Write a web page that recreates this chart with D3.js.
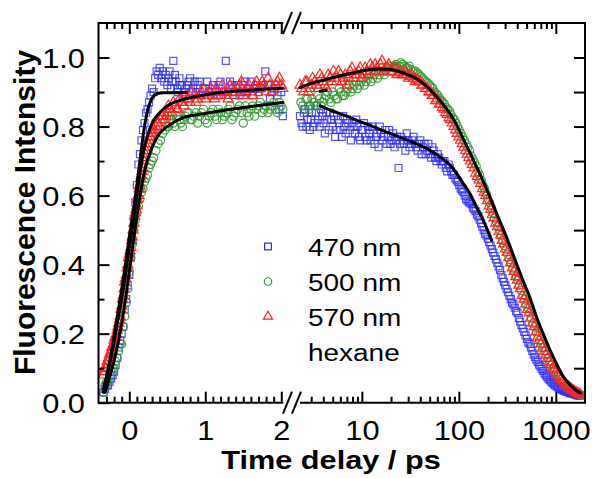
<!DOCTYPE html>
<html><head><meta charset="utf-8">
<script src="https://cdn.jsdelivr.net/npm/d3@7"></script>
<style>
html,body{margin:0;padding:0;background:#fff;}
svg{display:block;font-family:"Liberation Sans",Arial,Helvetica,sans-serif;}
</style></head><body>
<svg id="chart" width="592" height="478"></svg>
<script>
// ---------- data: [time (ps), normalized intensity] ----------
// linear region (-0.4 .. 2 ps)
const b470Early = [[-0.34,0.03],[-0.32,0.04],[-0.30,0.05],[-0.28,0.05],[-0.26,0.06],[-0.24,0.07],[-0.22,0.08],[-0.20,0.09],[-0.18,0.11],[-0.16,0.13],[-0.14,0.16],[-0.12,0.18],[-0.10,0.20],[-0.08,0.22],[-0.06,0.27],[-0.04,0.30],[-0.02,0.34],[0.00,0.37],[0.02,0.42],[0.04,0.47],[0.06,0.53],[0.08,0.58],[0.10,0.63],[0.12,0.69],[0.14,0.72],[0.16,0.76],[0.18,0.79],[0.20,0.81],[0.22,0.84],[0.24,0.85],[0.26,0.87],[0.28,0.89],[0.30,0.91],[0.32,0.90],[0.34,0.94],[0.36,0.96],[0.38,0.95],[0.40,0.97],[0.42,0.94],[0.44,0.96],[0.46,0.93],[0.48,0.95],[0.50,0.92],[0.52,0.94],[0.55,0.91],[0.58,0.99],[0.61,0.93],[0.64,0.90],[0.67,0.92],[0.70,0.89],[0.74,0.91],[0.78,0.93],[0.82,0.90],[0.86,0.93],[0.90,0.92],[0.95,0.89],[1.00,0.91],[1.05,0.90],[1.10,0.92],[1.15,0.89],[1.20,0.93],[1.27,0.99],[1.30,0.90],[1.35,0.92],[1.40,0.91],[1.45,0.89],[1.50,0.92],[1.55,0.90],[1.60,0.93],[1.65,0.91],[1.70,0.90],[1.75,0.92],[1.79,0.96],[1.85,0.88],[1.90,0.91],[1.95,0.89],[2.00,0.90],[2.02,0.83],
  [0.53,0.96],[0.565,0.93],[0.60,0.95],[0.63,0.91],[0.66,0.94],[0.69,0.92],[0.72,0.90],[0.76,0.92],[0.80,0.94],[0.84,0.91],[0.88,0.90],[0.925,0.93],[0.975,0.91],[1.025,0.93],[1.075,0.89],[1.125,0.91],[1.175,0.92],[1.225,0.90],[1.325,0.93],[1.375,0.90],[1.425,0.92],[1.475,0.90],[1.525,0.93],[1.575,0.91],[1.625,0.89],[1.675,0.92],[1.725,0.91],[1.825,0.92],[1.875,0.90],[1.925,0.92],[1.975,0.85]];
const g500Early = [[-0.34,0.03],[-0.32,0.05],[-0.30,0.06],[-0.28,0.06],[-0.26,0.08],[-0.24,0.09],[-0.22,0.10],[-0.20,0.10],[-0.18,0.12],[-0.16,0.13],[-0.14,0.15],[-0.12,0.17],[-0.10,0.17],[-0.08,0.22],[-0.06,0.25],[-0.04,0.29],[-0.02,0.33],[0.00,0.38],[0.02,0.42],[0.04,0.46],[0.06,0.50],[0.08,0.53],[0.10,0.55],[0.12,0.57],[0.14,0.59],[0.16,0.61],[0.18,0.62],[0.20,0.64],[0.22,0.65],[0.24,0.66],[0.26,0.68],[0.28,0.69],[0.30,0.70],[0.32,0.71],[0.35,0.73],[0.38,0.75],[0.41,0.76],[0.44,0.78],[0.47,0.79],[0.50,0.80],[0.53,0.81],[0.56,0.82],[0.60,0.80],[0.64,0.83],[0.68,0.81],[0.72,0.82],[0.76,0.84],[0.80,0.82],[0.85,0.83],[0.90,0.81],[0.95,0.84],[1.00,0.82],[1.05,0.83],[1.10,0.85],[1.15,0.82],[1.20,0.84],[1.25,0.83],[1.30,0.85],[1.35,0.82],[1.40,0.84],[1.45,0.86],[1.50,0.81],[1.55,0.84],[1.60,0.85],[1.65,0.83],[1.70,0.86],[1.75,0.84],[1.80,0.86],[1.85,0.85],[1.90,0.87],[1.95,0.84],[2.00,0.86],
  [0.515,0.80],[0.545,0.82],[0.58,0.81],[0.62,0.83],[0.66,0.82],[0.70,0.80],[0.74,0.83],[0.78,0.84],[0.825,0.82],[0.875,0.84],[0.925,0.83],[0.975,0.85],[1.025,0.81],[1.075,0.84],[1.125,0.83],[1.175,0.85],[1.225,0.82],[1.275,0.84],[1.325,0.86],[1.375,0.83],[1.425,0.85],[1.475,0.84],[1.525,0.86],[1.575,0.83],[1.625,0.86],[1.675,0.85],[1.725,0.87],[1.775,0.85],[1.825,0.84],[1.875,0.86],[1.925,0.85],[1.975,0.87],[2.02,0.85]];
const r570Early = [[-0.34,0.08],[-0.32,0.10],[-0.30,0.11],[-0.28,0.12],[-0.26,0.14],[-0.24,0.15],[-0.22,0.16],[-0.20,0.18],[-0.18,0.19],[-0.16,0.21],[-0.14,0.23],[-0.12,0.25],[-0.10,0.28],[-0.08,0.31],[-0.06,0.35],[-0.04,0.37],[-0.02,0.40],[0.00,0.43],[0.02,0.45],[0.04,0.48],[0.06,0.52],[0.08,0.55],[0.10,0.57],[0.12,0.60],[0.14,0.63],[0.16,0.66],[0.18,0.68],[0.20,0.71],[0.22,0.73],[0.24,0.75],[0.26,0.76],[0.28,0.77],[0.30,0.78],[0.32,0.78],[0.35,0.80],[0.38,0.81],[0.41,0.82],[0.44,0.83],[0.47,0.82],[0.50,0.84],[0.53,0.85],[0.56,0.84],[0.60,0.86],[0.64,0.85],[0.68,0.87],[0.72,0.86],[0.76,0.88],[0.80,0.87],[0.85,0.89],[0.90,0.88],[0.95,0.90],[1.00,0.88],[1.05,0.90],[1.10,0.89],[1.15,0.91],[1.20,0.89],[1.25,0.90],[1.30,0.88],[1.35,0.91],[1.40,0.90],[1.45,0.92],[1.50,0.89],[1.55,0.91],[1.60,0.90],[1.65,0.92],[1.70,0.91],[1.75,0.93],[1.80,0.90],[1.85,0.92],[1.90,0.91],[1.95,0.93],[2.00,0.92],
  [-0.33,0.09],[-0.31,0.10],[-0.29,0.12],[-0.27,0.13],[-0.25,0.14],[-0.23,0.16],[-0.21,0.17],[-0.19,0.19],[-0.17,0.20],[-0.15,0.22],[-0.13,0.24],[-0.11,0.27],[-0.09,0.30],[-0.07,0.33],[-0.05,0.36],[-0.03,0.39],[-0.01,0.42],[0.01,0.44],[0.03,0.47],[0.05,0.50],[0.07,0.54],[0.09,0.56],[0.11,0.59],[0.13,0.62],[0.15,0.65],[0.17,0.67],[0.19,0.70],[0.21,0.72],[0.23,0.74],[0.25,0.75],[0.27,0.77],[0.29,0.78],[0.31,0.79],
  [0.33,0.79],[0.365,0.81],[0.395,0.80],[0.425,0.83],[0.455,0.84],[0.485,0.83],[0.515,0.86],[0.545,0.85],[0.58,0.87],[0.62,0.85],[0.66,0.88],[0.70,0.87],[0.74,0.89],[0.78,0.88],[0.825,0.90],[0.875,0.87],[0.925,0.89],[0.975,0.91],[1.025,0.89],[1.075,0.91],[1.125,0.88],[1.175,0.90],[1.225,0.92],[1.275,0.89],[1.325,0.92],[1.375,0.89],[1.425,0.91],[1.475,0.93],[1.525,0.90],[1.575,0.92],[1.625,0.89],[1.675,0.93],[1.725,0.91],[1.775,0.92],[1.825,0.94],[1.875,0.90],[1.925,0.92],[1.975,0.94],[2.02,0.91]];
// log region (2.3 .. 2000 ps)
const b470Late = [[2.3,0.83],[2.45,0.80],[2.6,0.85],[2.75,0.82],[2.9,0.79],[3.05,0.84],[3.25,0.81],[3.45,0.86],[3.65,0.80],[3.9,0.83],[4.15,0.78],[4.4,0.82],[4.7,0.84],[5.0,0.80],[5.3,0.77],[5.65,0.82],[6.0,0.79],[6.4,0.83],[6.8,0.78],[7.25,0.81],[7.7,0.76],[8.2,0.80],[8.75,0.82],[9.3,0.77],[9.9,0.79],[10.5,0.81],[11.2,0.76],[11.9,0.78],[12.7,0.80],[13.5,0.75],[14.4,0.78],[15.3,0.80],[16.3,0.76],[17.4,0.79],[18.5,0.77],[19.7,0.75],[21,0.78],[22.4,0.76],[23.9,0.68],[25.5,0.77],[27.2,0.75],[29,0.78],[31,0.74],[33,0.76],[35.2,0.75],[37.6,0.73],[40,0.76],[42.7,0.74],[45.5,0.72],[48.5,0.75],[51.7,0.71],[55,0.73],[58.7,0.70],[62.6,0.71],[66.7,0.69],[71,0.70],[75.8,0.67],[80.8,0.68],[86,0.66],[92,0.65],[98,0.64],[104.5,0.62],[111.5,0.61],[119,0.59],[127,0.58],[135,0.575],[144,0.56],[154,0.545],[164,0.53],[175,0.51],[186,0.49],[199,0.475],[212,0.455],[226,0.435],[241,0.415],[257,0.395],[274,0.37],[292,0.35],[311,0.33],[332,0.31],[354,0.29],[377,0.275],[402,0.26],[429,0.235],[457,0.215],[488,0.195],[520,0.175],[554,0.16],[591,0.14],[630,0.125],[672,0.11],[716,0.098],[764,0.085],[814,0.075],[868,0.065],[926,0.057],[987,0.05],[1050,0.045],[1120,0.04],[1200,0.035],[1280,0.032],[1360,0.03],[1450,0.027],[1550,0.025],[1650,0.022],[1760,0.02],
  [2.38,0.81],[2.52,0.84],[2.68,0.80],[2.82,0.86],[2.98,0.82],[3.15,0.80],[3.35,0.84],[3.55,0.82],[3.78,0.85],[4.02,0.81],[4.28,0.84],[4.55,0.79],[4.85,0.82],[5.15,0.83],[5.48,0.79],[5.82,0.81],[6.2,0.77],[6.6,0.80],[7.02,0.82],[7.48,0.79],[7.95,0.81],[8.48,0.78],[9.02,0.80],[9.6,0.76],[10.2,0.79],[10.85,0.77],[11.55,0.80],[12.3,0.76],[13.1,0.79],[13.95,0.77],[14.85,0.74],[15.8,0.78],[16.85,0.77],[17.95,0.75],[19.1,0.79],[20.3,0.76],[21.7,0.74],[23.1,0.77],[24.7,0.75],[26.3,0.76],[28.1,0.73],[30,0.76],[32,0.75],[34.1,0.77],[36.4,0.74],[38.8,0.75],[41.3,0.72],[44.1,0.75],[47,0.73],[50.1,0.72],[53.3,0.74],[56.8,0.71],[60.6,0.72],[64.6,0.70],[68.8,0.70],[73.4,0.68],[78.3,0.69],[83.4,0.67],[89,0.66],[95,0.645],[101,0.63],[108,0.615],[115,0.60],[123,0.585],[131,0.58],[139.5,0.565],[149,0.555],[159,0.54],[169.5,0.52],[180.5,0.50],[192.5,0.485],[205.5,0.465],[219,0.445],[233.5,0.425],[249,0.405],[265.5,0.385],[283,0.36],[301.5,0.34],[321.5,0.32],[343,0.30],[365.5,0.285],[389.5,0.265],[415.5,0.245],[443,0.225],[472.5,0.205],[504,0.185],[537,0.17],[572.5,0.15],[610.5,0.133],[651,0.118],[694,0.105],[740,0.092],[789,0.08],[841,0.07],[897,0.061],[956,0.053],[1018,0.047],[1085,0.042],[1160,0.037],[1240,0.034],[1320,0.031],[1405,0.028],[1500,0.026],[1600,0.023],[1705,0.021]];
const g500Late = [[2.35,0.87],[2.55,0.85],[2.75,0.88],[2.95,0.86],[3.2,0.87],[3.5,0.89],[3.8,0.86],[4.1,0.88],[4.4,0.90],[4.8,0.87],[5.2,0.89],[5.6,0.88],[6.1,0.90],[6.6,0.89],[7.1,0.91],[7.7,0.90],[8.3,0.92],[9.0,0.91],[9.8,0.93],[10.6,0.92],[11.5,0.94],[12.4,0.93],[13.4,0.95],[14.5,0.94],[15.7,0.96],[17,0.95],[18.5,0.97],[20,0.96],[21.6,0.975],[23.4,0.97],[25.3,0.985],[27.3,0.975],[29.5,0.97],[32,0.965],[34.5,0.96],[37.5,0.955],[40.5,0.945],[44,0.935],[48,0.925],[52,0.915],[56,0.90],[61,0.89],[66,0.875],[71,0.865],[77,0.85],[83,0.835],[90,0.82],[97,0.80],[105,0.78],[114,0.76],[124,0.74],[134,0.715],[145,0.695],[157,0.67],[170,0.645],[184,0.62],[199,0.59],[216,0.565],[233,0.535],[252,0.51],[273,0.485],[295,0.455],[320,0.43],[345,0.405],[375,0.38],[405,0.355],[440,0.325],[475,0.30],[515,0.275],[560,0.245],[605,0.22],[655,0.195],[710,0.17],[770,0.15],[830,0.13],[900,0.11],[975,0.095],[1055,0.08],[1140,0.068],[1235,0.057],[1335,0.048],[1445,0.04],[1565,0.033],[1700,0.027],[1820,0.022],
  [2.45,0.86],[2.65,0.88],[2.85,0.85],[3.05,0.88],[3.35,0.86],[3.65,0.88],[3.95,0.87],[4.25,0.89],[4.6,0.88],[5.0,0.90],[5.4,0.88],[5.85,0.91],[6.35,0.89],[6.85,0.90],[7.4,0.92],[8.0,0.91],[8.65,0.93],[9.4,0.92],[10.2,0.94],[11,0.93],[11.9,0.95],[12.9,0.94],[13.9,0.96],[15.1,0.95],[16.3,0.97],[17.7,0.96],[19.2,0.975],[20.8,0.97],[22.5,0.98],[24.3,0.975],[26.3,0.98],[28.4,0.97],[30.7,0.975],[33.2,0.96],[36,0.96],[39,0.95],[42.2,0.94],[46,0.93],[50,0.92],[54,0.91],[58.5,0.895],[63.5,0.88],[68.5,0.87],[74,0.855],[80,0.845],[86.5,0.825],[93.5,0.81],[101,0.79],[109.5,0.77],[119,0.75],[129,0.73],[139.5,0.705],[151,0.685],[163.5,0.66],[177,0.63],[191.5,0.605],[207.5,0.58],[224.5,0.55],[242.5,0.525],[262.5,0.50],[284,0.47],[307,0.445],[332,0.415],[360,0.39],[390,0.365],[422,0.34],[457,0.31],[495,0.285],[537,0.26],[582,0.23],[630,0.205],[682,0.18],[740,0.16],[800,0.14],[865,0.12],[937,0.10],[1015,0.088],[1097,0.074],[1187,0.062],[1285,0.052],[1390,0.044],[1505,0.036],[1630,0.03],[1760,0.025]];
const r570Late = [[2.3,0.92],[2.5,0.90],[2.7,0.93],[2.9,0.91],[3.1,0.94],[3.4,0.92],[3.7,0.95],[4.0,0.93],[4.3,0.91],[4.7,0.94],[5.1,0.96],[5.5,0.93],[6.0,0.95],[6.5,0.94],[7.0,0.92],[7.6,0.96],[8.2,0.94],[8.9,0.95],[9.6,0.97],[10.4,0.95],[11.3,0.96],[12.2,0.98],[13.2,0.96],[14.3,0.97],[15.5,0.98],[16.8,0.96],[18.2,0.97],[19.7,0.96],[21.3,0.97],[23,0.95],[25,0.96],[27,0.95],[29,0.95],[31.5,0.945],[34,0.94],[37,0.935],[40,0.93],[43,0.92],[47,0.91],[51,0.90],[55,0.89],[60,0.88],[65,0.865],[70,0.85],[76,0.835],[82,0.82],[89,0.80],[96,0.78],[104,0.76],[113,0.74],[122,0.72],[132,0.70],[143,0.68],[155,0.655],[168,0.635],[182,0.61],[197,0.585],[213,0.56],[230,0.535],[250,0.51],[270,0.485],[290,0.46],[315,0.435],[340,0.405],[370,0.38],[400,0.355],[430,0.33],[470,0.30],[510,0.27],[550,0.245],[600,0.22],[650,0.19],[700,0.17],[760,0.148],[820,0.128],[890,0.11],[960,0.095],[1040,0.08],[1130,0.067],[1220,0.057],[1320,0.048],[1430,0.04],[1550,0.033],[1680,0.027],[1800,0.022],
  [2.4,0.91],[2.6,0.93],[2.8,0.90],[3.0,0.92],[3.25,0.93],[3.55,0.91],[3.85,0.94],[4.15,0.92],[4.5,0.95],[4.9,0.93],[5.3,0.94],[5.75,0.96],[6.25,0.93],[6.75,0.95],[7.3,0.94],[7.9,0.97],[8.55,0.95],[9.25,0.96],[10,0.94],[10.8,0.97],[11.7,0.95],[12.7,0.97],[13.7,0.98],[14.9,0.96],[16.1,0.99],[17.5,0.97],[18.9,0.98],[20.5,0.96],[22.1,0.97],[24,0.955],[26,0.95],[28,0.96],[30.2,0.94],[32.7,0.95],[35.5,0.93],[38.5,0.93],[41.5,0.92],[45,0.91],[49,0.90],[53,0.89],[57.5,0.875],[62.5,0.865],[67.5,0.855],[73,0.84],[79,0.825],[85.5,0.81],[92.5,0.79],[100,0.77],[108.5,0.75],[117.5,0.73],[127,0.71],[137.5,0.69],[149,0.665],[161.5,0.645],[175,0.62],[189.5,0.60],[205,0.57],[221.5,0.545],[240,0.52],[260,0.495],[280,0.47],[302,0.445],[327,0.42],[355,0.39],[385,0.365],[415,0.34],[450,0.31],[490,0.285],[530,0.26],[575,0.23],[625,0.205],[675,0.18],[730,0.158],[790,0.138],[855,0.118],[925,0.10],[1000,0.087],[1085,0.074],[1175,0.062],[1270,0.052],[1375,0.044],[1490,0.036],[1615,0.03],[1740,0.025]];
// fitted curves
const fit470Early = [[-0.34,0.03],[-0.25,0.13],[-0.15,0.26],[-0.05,0.40],[0,0.48],[0.05,0.55],[0.1,0.63],[0.15,0.72],[0.2,0.80],[0.25,0.855],[0.3,0.882],[0.36,0.895],[0.45,0.898],[0.75,0.899]];
const fit500Early = [[-0.32,0.03],[-0.25,0.08],[-0.15,0.17],[-0.05,0.30],[0,0.38],[0.05,0.46],[0.1,0.54],[0.15,0.61],[0.2,0.67],[0.3,0.74],[0.4,0.78],[0.5,0.80],[0.7,0.825],[1.0,0.838],[1.5,0.855],[2.02,0.87]];
const fit570Early = [[-0.34,0.04],[-0.25,0.12],[-0.15,0.24],[-0.05,0.37],[0,0.45],[0.05,0.52],[0.1,0.60],[0.15,0.68],[0.2,0.74],[0.25,0.78],[0.3,0.81],[0.36,0.83],[0.5,0.86],[0.7,0.878],[0.9,0.888],[1.15,0.897],[1.5,0.904],[2.02,0.911]];
const fit470Late = [[3.7,0.86],[5,0.845],[7,0.83],[8.9,0.818],[13,0.80],[19.5,0.78],[30,0.76],[43,0.741],[64,0.712],[80,0.69],[95,0.664],[110,0.637],[130,0.606],[150,0.57],[178,0.529],[217,0.471]];
const fit500Late = [[3.7,0.902],[4.3,0.905]];
const fit570Late = [[2.3,0.913],[3,0.925],[4,0.934],[6,0.947],[9,0.958],[12,0.965],[15,0.967],[19,0.966],[25,0.958],[30,0.95],[37,0.938],[45,0.92],[55,0.896],[67,0.868],[81,0.838],[95,0.805],[111,0.765],[130,0.725],[152,0.683],[180,0.64],[209,0.596],[250,0.543],[320,0.47],[380,0.414],[457,0.355],[540,0.305],[630,0.25],[740,0.2],[870,0.153],[1000,0.117],[1180,0.078],[1400,0.052],[1690,0.032],[1800,0.028]];
// ticks & labels
const linTicks = [0, 1, 2];
const logTicks = [10, 100, 1000];
const yTicks = [0, 0.2, 0.4, 0.6, 0.8, 1.0];
const legendLabels = ["470 nm", "500 nm", "570 nm", "hexane"];
const xTitle = "Time delay / ps";
const yTitle = "Fluorescence Intensity";

// ---------- layout ----------
const svg = d3.select("#chart");
const L = 98.5, R = 585, T = 23, B = 402.7;
const brkL = 283.3, brkR = 300;
const xL = d3.scaleLinear().domain([-0.4, 2.02]).range([98.9, 282.8]);
const xR = d3.scaleLog().domain([2.3, 2000]).range([300, 585]);
const y = d3.scaleLinear().domain([0, 1.1]).range([B, T]);

const COL = {b:"#2a2aff", g:"#2e9a2e", r:"#ff2222"};

// ---------- markers ----------
function drawSeries(early, late, type, size, color, op){
  const sym = d3.symbol().type(type).size(size);
  const pts = early.map(d=>[xL(d[0]), y(d[1])]).concat(late.map(d=>[xR(d[0]), y(d[1])]));
  svg.append("g").selectAll("path").data(pts).join("path")
    .attr("d", sym).attr("transform", d=>`translate(${d[0]},${d[1]})`)
    .attr("fill","none").attr("stroke",color).attr("stroke-width",1.2).attr("stroke-opacity",op);
}
drawSeries(b470Early, b470Late, d3.symbolSquare, 49, COL.b, 0.8);
drawSeries(g500Early, g500Late, d3.symbolCircle, 52, COL.g, 0.9);
drawSeries(r570Early, r570Late, d3.symbolTriangle, 44, COL.r, 0.95);

// ---------- fits ----------
const lineL = d3.line().x(d=>xL(d[0])).y(d=>y(d[1])).curve(d3.curveMonotoneX);
const lineR = d3.line().x(d=>xR(d[0])).y(d=>y(d[1])).curve(d3.curveMonotoneX);
const fitG = svg.append("g").attr("fill","none").attr("stroke","#000").attr("stroke-width",3).attr("stroke-linecap","round");
[fit470Early, fit500Early, fit570Early].forEach(f=>fitG.append("path").attr("d", lineL(f)));
[fit470Late, fit500Late, fit570Late].forEach(f=>fitG.append("path").attr("d", lineR(f)));

// ---------- axes ----------
function clean(g){
  g.attr("font-size", null).attr("font-family", null);
  g.select(".domain").remove();
  g.selectAll("line").attr("stroke","#000").attr("stroke-width",2);
}
const linMinor = d3.range(-3, 21).filter(i=>i%10!==0).map(i=>i/10);
const logMinor = [3,4,5,6,7,8,9,20,30,40,50,60,70,80,90,200,300,400,500,600,700,800,900];
const yMinor = [0.1,0.3,0.5,0.7,0.9];
const yAll = [0.1,0.2,0.3,0.4,0.5,0.6,0.7,0.8,0.9,1.0];

const gbL = svg.append("g").attr("transform",`translate(0,${B})`)
  .call(d3.axisBottom(xL).tickValues(linTicks).tickSize(-11).tickFormat(d3.format("d"))).call(clean);
svg.append("g").attr("transform",`translate(0,${B})`)
  .call(d3.axisBottom(xL).tickValues(linMinor).tickSize(-6).tickFormat("")).call(clean);
const gbR = svg.append("g").attr("transform",`translate(0,${B})`)
  .call(d3.axisBottom(xR).tickValues(logTicks).tickSize(-11).tickFormat(d3.format("d"))).call(clean);
svg.append("g").attr("transform",`translate(0,${B})`)
  .call(d3.axisBottom(xR).tickValues(logMinor).tickSize(-6).tickFormat("")).call(clean);
svg.append("g").attr("transform",`translate(0,${T})`)
  .call(d3.axisTop(xL).tickValues(linTicks).tickSize(-11).tickFormat("")).call(clean);
svg.append("g").attr("transform",`translate(0,${T})`)
  .call(d3.axisTop(xL).tickValues(linMinor).tickSize(-6).tickFormat("")).call(clean);
svg.append("g").attr("transform",`translate(0,${T})`)
  .call(d3.axisTop(xR).tickValues(logTicks).tickSize(-11).tickFormat("")).call(clean);
svg.append("g").attr("transform",`translate(0,${T})`)
  .call(d3.axisTop(xR).tickValues(logMinor).tickSize(-6).tickFormat("")).call(clean);
const gl = svg.append("g").attr("transform",`translate(${L},0)`)
  .call(d3.axisLeft(y).tickValues(yTicks).tickSize(-11).tickFormat(d3.format(".1f"))).call(clean);
svg.append("g").attr("transform",`translate(${L},0)`)
  .call(d3.axisLeft(y).tickValues(yMinor).tickSize(-6).tickFormat("")).call(clean);
svg.append("g").attr("transform",`translate(${R},0)`)
  .call(d3.axisRight(y).tickValues(yAll).tickSize(-11).tickFormat("")).call(clean);

[gbL, gbR].forEach(g=>g.selectAll("text").attr("y", 37.3).attr("dy", null)
  .attr("font-size", 27).attr("fill","#000").classed("st114", true));
gl.selectAll("text").attr("x", -13.5).attr("dy","0.36em").attr("font-size",27).attr("fill","#000").classed("st114", true);

// frame
const frame = svg.append("g").attr("stroke","#000").attr("stroke-width",2).attr("fill","none");
frame.append("line").attr("x1",L).attr("x2",L).attr("y1",T-1).attr("y2",B+1);
frame.append("line").attr("x1",R).attr("x2",R).attr("y1",T-1).attr("y2",B+1);
[T, B].forEach(yy=>{
  frame.append("line").attr("x1",L).attr("x2",brkL).attr("y1",yy).attr("y2",yy);
  frame.append("line").attr("x1",brkR).attr("x2",R).attr("y1",yy).attr("y2",yy);
  [283, 292].forEach(x0=>frame.append("line").attr("x1",x0).attr("y1",yy+11).attr("x2",x0+9).attr("y2",yy-11));
});

// ---------- legend ----------
const lg = svg.append("g");
const legSyms = [
  {type:d3.symbolSquare, size:46, col:COL.b},
  {type:d3.symbolCircle, size:44, col:COL.g},
  {type:d3.symbolTriangle, size:36, col:COL.r},
  null];
legendLabels.forEach((lab,i)=>{
  const base = 255.5 + i*35;
  const s = legSyms[i];
  if (s) lg.append("path").attr("d", d3.symbol().type(s.type).size(s.size)())
    .attr("transform",`translate(268,${base-9})`).attr("fill","none").attr("stroke",s.col).attr("stroke-width",1.2);
  lg.append("text").attr("x",308).attr("y",base).attr("font-size",23.3).attr("fill","#000")
    .classed("st120", true).text(lab);
});

// ---------- titles ----------
svg.append("text").attr("x",331).attr("y",469).attr("text-anchor","middle")
  .attr("font-size",26).attr("font-weight","bold").attr("fill","#000").classed("st118", true).text(xTitle);
svg.append("text").attr("transform","translate(35,212.5) rotate(-90)").attr("text-anchor","middle")
  .attr("font-size",30).attr("font-weight","bold").attr("fill","#000").text(yTitle);

function stretch(cls, k){
  svg.selectAll("text."+cls).each(function(){
    const w = this.getComputedTextLength();
    this.setAttribute("textLength", (w*k).toFixed(1));
    this.setAttribute("lengthAdjust","spacingAndGlyphs");
  });
}
stretch("st114", 1.14);
stretch("st120", 1.2);
stretch("st118", 1.18);
</script>
</body></html>
